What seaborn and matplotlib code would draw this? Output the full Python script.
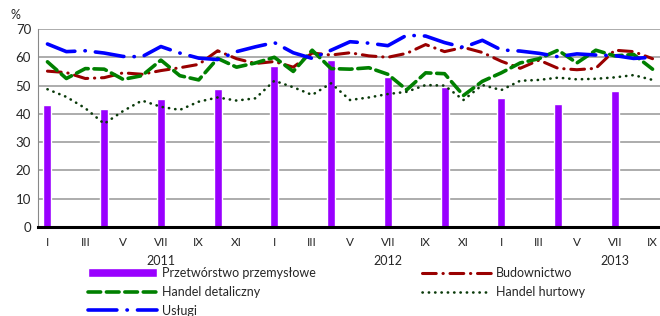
import matplotlib
matplotlib.use("Agg")
import matplotlib.pyplot as plt
import matplotlib.transforms as mtransforms
import seaborn as sns
import pandas as pd

months = ["I", "II", "III", "IV", "V", "VI", "VII", "VIII", "IX", "X", "XI", "XII"] * 2 + \
         ["I", "II", "III", "IV", "V", "VI", "VII", "VIII", "IX"]
years = ["2011", "2012", "2013"]

# quarterly bars (I, IV, VII, X)
bar_months = [0, 3, 6, 9, 12, 15, 18, 21, 24, 27, 30]
przetworstwo = [43.1, 41.8, 45.4, 48.8, 56.9, 59.0, 52.9, 49.5, 45.5, 43.6, 48.1]

budownictwo = [55.1, 54.6, 52.5, 52.8, 54.5, 54.0, 55.3, 56.3, 57.5, 62.3, 59.5, 57.8,
               58.5, 56.5, 61.5, 60.8, 61.6, 60.5, 60.0, 61.4, 64.5, 62.0, 63.5, 61.7,
               58.6, 56.1, 59.0, 56.1, 55.6, 56.1, 62.5, 62.0, 59.5]
handel_det = [58.4, 52.5, 56.0, 55.8, 52.2, 53.5, 59.0, 53.5, 52.0, 59.6, 56.5, 58.0,
              60.0, 55.0, 62.5, 56.0, 55.8, 56.3, 54.0, 48.5, 54.5, 54.2, 46.5, 51.5,
              54.5, 58.0, 59.5, 62.5, 58.0, 62.5, 60.5, 61.0, 55.8]
handel_hurt = [48.7, 46.0, 42.0, 36.5, 41.0, 44.7, 42.5, 41.4, 44.3, 45.8, 44.7, 45.5,
               51.7, 49.4, 46.7, 50.8, 44.9, 45.8, 47.0, 47.8, 50.2, 50.0, 44.9, 50.2,
               48.4, 51.7, 52.0, 52.8, 52.2, 52.4, 52.9, 53.7, 52.0]
uslugi = [64.7, 62.0, 62.3, 61.5, 60.3, 60.2, 63.8, 61.5, 59.7, 59.2, 62.0, 63.7,
          65.2, 61.6, 59.6, 62.5, 65.5, 65.0, 64.1, 67.8, 67.5, 65.2, 63.5, 66.0,
          62.6, 62.2, 61.4, 60.2, 61.2, 60.8, 60.6, 59.6, 60.0]

sns.set_style("white")
plt.rcParams['font.family'] = ['Lato', 'DejaVu Sans']

fig = plt.figure(figsize=(6.6, 3.16), dpi=100)
ax = fig.add_axes([38 / 660, 1 - 227 / 316, 624 / 660, 198 / 316])

idx = list(range(len(months)))
bars = pd.DataFrame({"m": bar_months, "v": przetworstwo})
sns.barplot(data=bars, x="m", y="v", order=idx, color="#9900FF", saturation=1,
            width=0.42, ax=ax, label="Przetwórstwo przemysłowe", zorder=2)

sns.lineplot(x=idx, y=budownictwo, color="#990000", lw=2.2, ax=ax,
             linestyle=(0, (4.5, 2.2, 0.1, 2.2)), dash_capstyle="round",
             label="Budownictwo", zorder=3)
sns.lineplot(x=idx, y=handel_det, color="#008000", lw=2.6, ax=ax,
             linestyle=(0, (3.5, 1.6)), dash_capstyle="round",
             label="Handel detaliczny", zorder=3)
sns.lineplot(x=idx, y=handel_hurt, color="#0A3A0A", lw=1.9, ax=ax,
             linestyle=(0, (0.1, 2.3)), dash_capstyle="round",
             label="Handel hurtowy", zorder=3)
sns.lineplot(x=idx, y=uslugi, color="#0000FF", lw=2.6, ax=ax,
             linestyle=(0, (8, 2.8, 0.1, 2.8)), dash_capstyle="round",
             label="Usługi", zorder=3)

ax.set_xlim(-0.5, len(months) - 0.5)
ax.set_ylim(0, 70)
ax.set_yticks(range(0, 71, 10))
ax.yaxis.grid(True, color="#A6A6A6", lw=1.3)
ax.set_axisbelow(True)
for s in ["top", "right"]:
    ax.spines[s].set_visible(False)
ax.spines["left"].set_color("#888888")
ax.spines["bottom"].set_color("black")
ax.spines["bottom"].set_linewidth(2.2)
ax.spines["bottom"].set_zorder(4)
ax.tick_params(axis="y", length=3, color="#888888", labelsize=9.5, pad=2)

ax.set_xticks(range(0, len(months), 2))
ax.set_xticklabels(months[::2], fontsize=8.5)
ax.tick_params(axis="x", length=0, pad=7)
ax.set_xticks([-0.5, 11.5, 23.5], minor=True)
ax.tick_params(axis="x", which="minor", length=3, width=2.5, color="black")
ax.set_xlabel("")
ax.set_ylabel("")

trans = mtransforms.blended_transform_factory(ax.transData, fig.transFigure)
for pos, yr in zip([6, 18, 30], years):
    ax.text(pos, 1 - 261 / 316, yr, transform=trans, ha="center", va="center", fontsize=9)
fig.text(15 / 660, 1 - 15 / 316, "%", ha="center", va="center", fontsize=9)

handles, labels = ax.get_legend_handles_labels()
ax.legend_.remove()
order = ["Przetwórstwo przemysłowe", "Handel detaliczny", "Usługi", "Budownictwo", "Handel hurtowy"]
hmap = dict(zip(labels, handles))
fig.legend([hmap[l] for l in order], order, ncol=2, frameon=False, fontsize=9,
           loc="upper left", bbox_to_anchor=(88 / 660, 1 - 267 / 316),
           handlelength=5.5, handletextpad=0.4, columnspacing=8.5, labelspacing=0.55,
           borderaxespad=0, borderpad=0)

fig.savefig("out.png", dpi=100)
